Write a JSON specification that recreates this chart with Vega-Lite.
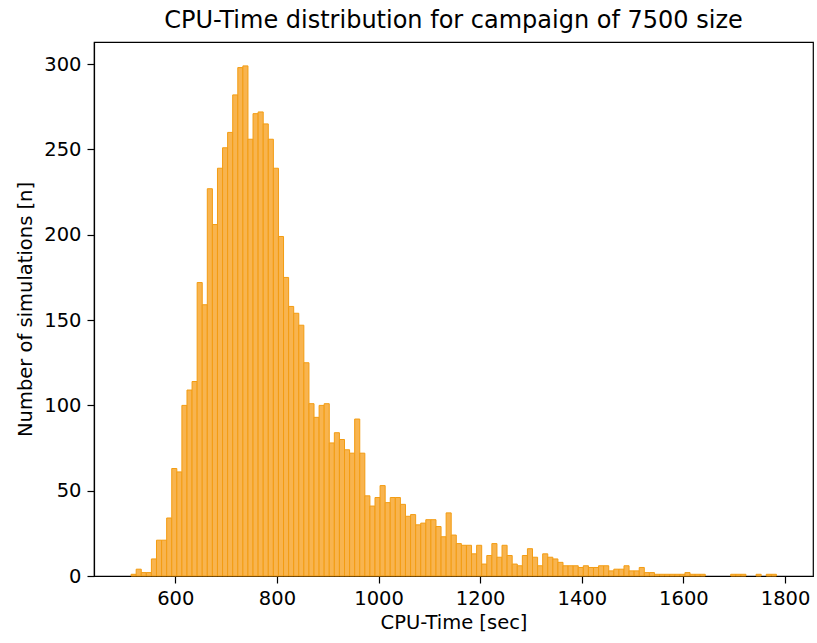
{
  "$schema": "https://vega.github.io/schema/vega-lite/v6.json",
  "autosize": "none",
  "width": 719,
  "height": 534,
  "padding": {"left": 94, "top": 42, "right": 4, "bottom": 67},
  "background": "white",
  "title": {"text": "CPU-Time distribution for campaign of 7500 size", "font": "DejaVu Sans", "fontSize": 24, "fontWeight": "normal", "color": "#000000", "offset": 9, "anchor": "middle"},
  "config": {
    "view": {"stroke": "#000000", "strokeWidth": 1.2},
    "axis": {"domainColor": "#000000", "tickColor": "#000000", "labelColor": "#000000", "titleColor": "#000000", "labelFont": "DejaVu Sans", "titleFont": "DejaVu Sans", "labelFontSize": 19.5, "titleFontSize": 19.5, "titleFontWeight": "normal", "grid": false, "tickSize": 7, "domainWidth": 1.2, "tickWidth": 1.2}
  },
  "data": {"values": [
    {"start": 513, "end": 523, "n": 1},
    {"start": 523, "end": 533, "n": 4},
    {"start": 533, "end": 543, "n": 2},
    {"start": 543, "end": 553, "n": 2},
    {"start": 553, "end": 563, "n": 10},
    {"start": 563, "end": 573, "n": 21},
    {"start": 573, "end": 583, "n": 21},
    {"start": 583, "end": 593, "n": 34},
    {"start": 593, "end": 603, "n": 63},
    {"start": 603, "end": 613, "n": 61},
    {"start": 613, "end": 623, "n": 100},
    {"start": 623, "end": 633, "n": 109},
    {"start": 633, "end": 643, "n": 114},
    {"start": 643, "end": 653, "n": 172},
    {"start": 653, "end": 663, "n": 159},
    {"start": 663, "end": 673, "n": 227},
    {"start": 673, "end": 683, "n": 206},
    {"start": 683, "end": 693, "n": 239},
    {"start": 693, "end": 703, "n": 251},
    {"start": 703, "end": 713, "n": 260},
    {"start": 713, "end": 723, "n": 282},
    {"start": 723, "end": 733, "n": 298},
    {"start": 733, "end": 743, "n": 299},
    {"start": 743, "end": 753, "n": 256},
    {"start": 753, "end": 763, "n": 271},
    {"start": 763, "end": 773, "n": 272},
    {"start": 773, "end": 783, "n": 265},
    {"start": 783, "end": 793, "n": 256},
    {"start": 793, "end": 803, "n": 239},
    {"start": 803, "end": 813, "n": 199},
    {"start": 813, "end": 823, "n": 175},
    {"start": 823, "end": 833, "n": 158},
    {"start": 833, "end": 843, "n": 154},
    {"start": 843, "end": 853, "n": 147},
    {"start": 853, "end": 863, "n": 125},
    {"start": 863, "end": 873, "n": 101},
    {"start": 873, "end": 883, "n": 93},
    {"start": 883, "end": 893, "n": 100},
    {"start": 893, "end": 903, "n": 101},
    {"start": 903, "end": 913, "n": 78},
    {"start": 913, "end": 923, "n": 84},
    {"start": 923, "end": 933, "n": 80},
    {"start": 933, "end": 943, "n": 74},
    {"start": 943, "end": 953, "n": 72},
    {"start": 953, "end": 963, "n": 92},
    {"start": 963, "end": 973, "n": 72},
    {"start": 973, "end": 983, "n": 47},
    {"start": 983, "end": 993, "n": 41},
    {"start": 993, "end": 1003, "n": 46},
    {"start": 1003, "end": 1013, "n": 53},
    {"start": 1013, "end": 1023, "n": 43},
    {"start": 1023, "end": 1033, "n": 46},
    {"start": 1033, "end": 1043, "n": 46},
    {"start": 1043, "end": 1053, "n": 42},
    {"start": 1053, "end": 1063, "n": 35},
    {"start": 1063, "end": 1073, "n": 36},
    {"start": 1073, "end": 1083, "n": 30},
    {"start": 1083, "end": 1093, "n": 31},
    {"start": 1093, "end": 1103, "n": 33},
    {"start": 1103, "end": 1113, "n": 33},
    {"start": 1113, "end": 1123, "n": 29},
    {"start": 1123, "end": 1133, "n": 23},
    {"start": 1133, "end": 1143, "n": 37},
    {"start": 1143, "end": 1153, "n": 24},
    {"start": 1153, "end": 1163, "n": 19},
    {"start": 1163, "end": 1173, "n": 18},
    {"start": 1173, "end": 1183, "n": 18},
    {"start": 1183, "end": 1193, "n": 13},
    {"start": 1193, "end": 1203, "n": 18},
    {"start": 1203, "end": 1213, "n": 7},
    {"start": 1213, "end": 1223, "n": 12},
    {"start": 1223, "end": 1233, "n": 19},
    {"start": 1233, "end": 1243, "n": 11},
    {"start": 1243, "end": 1253, "n": 18},
    {"start": 1253, "end": 1263, "n": 12},
    {"start": 1263, "end": 1273, "n": 7},
    {"start": 1273, "end": 1283, "n": 6},
    {"start": 1283, "end": 1293, "n": 12},
    {"start": 1293, "end": 1303, "n": 16},
    {"start": 1303, "end": 1313, "n": 11},
    {"start": 1313, "end": 1323, "n": 6},
    {"start": 1323, "end": 1333, "n": 13},
    {"start": 1333, "end": 1343, "n": 11},
    {"start": 1343, "end": 1353, "n": 10},
    {"start": 1353, "end": 1363, "n": 8},
    {"start": 1363, "end": 1373, "n": 6},
    {"start": 1373, "end": 1383, "n": 6},
    {"start": 1383, "end": 1393, "n": 6},
    {"start": 1393, "end": 1403, "n": 5},
    {"start": 1403, "end": 1413, "n": 6},
    {"start": 1413, "end": 1423, "n": 5},
    {"start": 1423, "end": 1433, "n": 5},
    {"start": 1433, "end": 1443, "n": 6},
    {"start": 1443, "end": 1453, "n": 6},
    {"start": 1453, "end": 1463, "n": 3},
    {"start": 1463, "end": 1473, "n": 4},
    {"start": 1473, "end": 1483, "n": 4},
    {"start": 1483, "end": 1493, "n": 6},
    {"start": 1493, "end": 1503, "n": 3},
    {"start": 1503, "end": 1513, "n": 3},
    {"start": 1513, "end": 1523, "n": 5},
    {"start": 1523, "end": 1533, "n": 2},
    {"start": 1533, "end": 1543, "n": 2},
    {"start": 1543, "end": 1553, "n": 1},
    {"start": 1553, "end": 1563, "n": 1},
    {"start": 1563, "end": 1573, "n": 1},
    {"start": 1573, "end": 1583, "n": 1},
    {"start": 1583, "end": 1593, "n": 1},
    {"start": 1593, "end": 1603, "n": 1},
    {"start": 1603, "end": 1613, "n": 2},
    {"start": 1613, "end": 1623, "n": 1},
    {"start": 1623, "end": 1633, "n": 1},
    {"start": 1633, "end": 1643, "n": 1},
    {"start": 1693, "end": 1703, "n": 1},
    {"start": 1703, "end": 1713, "n": 1},
    {"start": 1713, "end": 1723, "n": 1},
    {"start": 1743, "end": 1753, "n": 1},
    {"start": 1763, "end": 1773, "n": 1},
    {"start": 1773, "end": 1783, "n": 1}
  ]},
  "mark": {"type": "rect", "fill": "#f8b44f", "stroke": "#f39c12", "strokeWidth": 1},
  "encoding": {
    "x": {"field": "start", "type": "quantitative", "scale": {"domain": [440, 1855], "nice": false, "zero": false}, "axis": {"title": "CPU-Time [sec]", "values": [600, 800, 1000, 1200, 1400, 1600, 1800], "format": "d", "labelPadding": 6, "titlePadding": 6}},
    "x2": {"field": "end"},
    "y": {"field": "n", "type": "quantitative", "scale": {"domain": [0, 313], "nice": false}, "axis": {"title": "Number of simulations [n]", "values": [0, 50, 100, 150, 200, 250, 300], "labelPadding": 6, "titlePadding": 8}},
    "y2": {"datum": 0}
  }
}
